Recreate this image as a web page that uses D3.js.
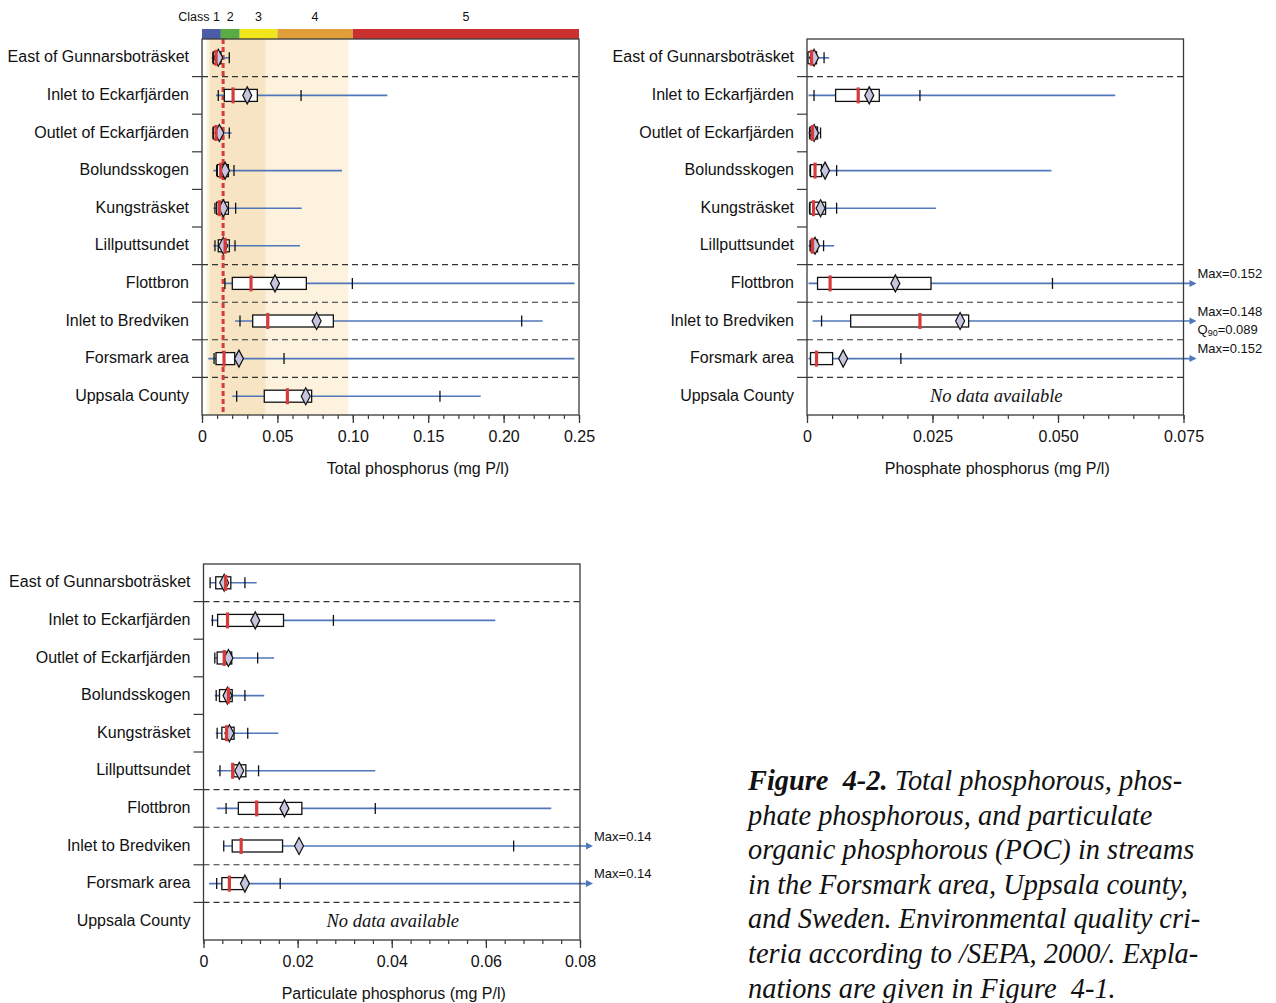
<!DOCTYPE html>
<html>
<head>
<meta charset="utf-8">
<script src="https://cdn.jsdelivr.net/npm/d3@7"></script>
<style>
  html, body { margin: 0; padding: 0; background: #fff; }
  svg { display: block; }
  text { font-family: "Liberation Sans", Arial, Helvetica, sans-serif; fill: #111; }
  .serif { font-family: "Liberation Serif", "Times New Roman", Times, serif; }
</style>
</head>
<body>
<svg id="fig" width="1276" height="1003"></svg>
<script>
// ---------- data ----------
const stations = [
  "East of Gunnarsboträsket", "Inlet to Eckarfjärden", "Outlet of Eckarfjärden",
  "Bolundsskogen", "Kungsträsket", "Lillputtsundet", "Flottbron",
  "Inlet to Bredviken", "Forsmark area", "Uppsala County"
];
// rows followed by a dashed separator (index of the row above the line)
const groupBreaks = [0, 5, 6, 7, 8];

// Total phosphorus (mg P/l)
const tpMin    = [0.0064, 0.0093, 0.0071, 0.0075, 0.0075, 0.0075, 0.0148, 0.0219, 0.0042, 0.0201];
const tpLow    = [0.0072, 0.0108, 0.0073, 0.0097, 0.0086, 0.0086, 0.0152, 0.0252, 0.0080, 0.0230];
const tpQ1     = [0.0075, 0.0148, 0.0075, 0.0102, 0.0097, 0.0108, 0.0201, 0.0336, 0.0093, 0.0413];
const tpMedian = [0.0093, 0.0206, 0.0093, 0.0124, 0.0115, 0.0153, 0.0325, 0.0436, 0.0146, 0.0566];
const tpQ3     = [0.0126, 0.0367, 0.0124, 0.0175, 0.0175, 0.0181, 0.0692, 0.0871, 0.0217, 0.0727];
const tpHigh   = [0.0181, 0.0657, 0.0181, 0.0212, 0.0223, 0.0219, 0.0997, 0.2120, 0.0544, 0.1578];
const tpMax    = [0.0186, 0.1229, 0.0197, 0.0928, 0.0661, 0.0650, 0.2470, 0.2259, 0.2470, 0.1848];
const tpMean   = [0.0108, 0.0300, 0.0115, 0.0153, 0.0141, 0.0141, 0.0484, 0.0760, 0.0245, 0.0688];
const tpTicks  = [0, 0.05, 0.10, 0.15, 0.20, 0.25];
const tpTickLabels = ["0", "0.05", "0.10", "0.15", "0.20", "0.25"];

// Environmental quality classes for total phosphorus
const classBreaks = [0, 0.0125, 0.025, 0.05, 0.1, 0.25];
const classNames  = ["1", "2", "3", "4", "5"];
const classColors = ["#4a5ca6", "#5aab45", "#f1e61c", "#e09f3a", "#c9302f"];
// Swedish reference ranges and median
const swedenOuter  = [0.003, 0.097];
const swedenInner  = [0.005, 0.042];
const swedenMedian = 0.014;

// Phosphate phosphorus (mg P/l)
const ppMin    = [0.0001, 0.0003, 0.0003, 0.0004, 0.0004, 0.0003, 0.0003, 0.0011, 0.0003, null];
const ppLow    = [0.0002, 0.0014, 0.0005, 0.0006, 0.0005, 0.0006, null,   0.0029, null,   null];
const ppQ1     = [0.0002, 0.0057, 0.0006, 0.0007, 0.0006, 0.0008, 0.0021, 0.0087, 0.0007, null];
const ppMedian = [0.0009, 0.0102, 0.0011, 0.0016, 0.0013, 0.0011, 0.0046, 0.0225, 0.0019, null];
const ppQ3     = [0.0019, 0.0144, 0.0021, 0.0029, 0.0037, 0.0021, 0.0247, 0.0322, 0.0051, null];
const ppHigh   = [0.0034, 0.0225, 0.0027, 0.0059, 0.0059, 0.0033, 0.0489, 0.089,  0.0187, null];
const ppMax    = [0.0044, 0.0614, 0.0028, 0.0487, 0.0257, 0.0054, 0.152,  0.148,  0.152,  null];
const ppMean   = [0.0014, 0.0124, 0.0014, 0.0036, 0.0027, 0.0016, 0.0176, 0.0305, 0.0072, null];
const ppTicks  = [0, 0.025, 0.050, 0.075];
const ppTickLabels = ["0", "0.025", "0.050", "0.075"];

// Particulate phosphorus (mg P/l)
const ptMin    = [0.0014, 0.0016, 0.0023, 0.0024, 0.0026, 0.0029, 0.0028, 0.0042, 0.0012, null];
const ptLow    = [0.0014, 0.0019, 0.0024, 0.0027, 0.0029, 0.0035, 0.0048, 0.0043, 0.0028, null];
const ptQ1     = [0.0026, 0.0030, 0.0029, 0.0034, 0.0039, 0.0064, 0.0074, 0.0061, 0.0039, null];
const ptMedian = [0.0047, 0.0051, 0.0044, 0.0053, 0.0049, 0.0062, 0.0113, 0.0080, 0.0055, null];
const ptQ3     = [0.0058, 0.0170, 0.0060, 0.0061, 0.0065, 0.0090, 0.0209, 0.0168, 0.0088, null];
const ptHigh   = [0.0088, 0.0276, 0.0115, 0.0088, 0.0094, 0.0117, 0.0365, 0.0659, 0.0163, null];
const ptMax    = [0.0113, 0.0620, 0.0150, 0.0129, 0.0159, 0.0365, 0.0739, 0.14,   0.14,   null];
const ptMean   = [0.0044, 0.0110, 0.0053, 0.0051, 0.0055, 0.0076, 0.0172, 0.0203, 0.0088, null];
const ptTicks  = [0, 0.02, 0.04, 0.06, 0.08];
const ptTickLabels = ["0", "0.02", "0.04", "0.06", "0.08"];

const captionLead = "Figure  4-2.";
const captionLines = [
  " Total phosphorous, phos-",
  "phate phosphorous, and particulate",
  "organic phosphorous (POC) in streams",
  "in the Forsmark area, Uppsala county,",
  "and Sweden. Environmental quality cri-",
  "teria according to /SEPA, 2000/. Expla-",
  "nations are given in Figure  4-1."
];

// ---------- drawing ----------
const svg = d3.select("#fig");
const BLUE = "#5077ba", RED = "#d63a3a", FRAME = "#3a3a3a";

function rowsFrom(a) {
  return stations.map((s, i) => ({
    station: s,
    min: a.min[i], low: a.low[i], q1: a.q1[i], median: a.median[i],
    q3: a.q3[i], high: a.high[i], max: a.max[i], mean: a.mean[i]
  }));
}

function drawPanel(cfg) {
  const g = svg.append("g");
  const x = d3.scaleLinear().domain([cfg.ticks[0], cfg.ticks[cfg.ticks.length - 1]])
    .range([cfg.left, cfg.right]);
  const y = d3.scaleBand().domain(stations).range([cfg.top, cfg.bottom]);
  const bw = y.bandwidth();
  const cy = s => y(s) + bw / 2;
  const xMax = x.domain()[1];

  if (cfg.background) cfg.background(g, x, y);

  // dashed group separators
  g.append("g").selectAll("line").data(groupBreaks).join("line")
    .attr("x1", cfg.left).attr("x2", cfg.right)
    .attr("y1", i => y(stations[i]) + bw).attr("y2", i => y(stations[i]) + bw)
    .attr("stroke", "#333").attr("stroke-width", 1.1).attr("stroke-dasharray", "6,4");

  // row ticks on the category axis
  g.append("g").selectAll("line").data(stations.slice(1)).join("line")
    .attr("x1", cfg.left - 10).attr("x2", cfg.left)
    .attr("y1", s => y(s)).attr("y2", s => y(s))
    .attr("stroke", FRAME).attr("stroke-width", 1.2);

  // station names
  g.append("g").selectAll("text").data(stations).join("text")
    .attr("x", cfg.left - 13).attr("y", s => cy(s) - 1).attr("dy", "0.35em")
    .attr("text-anchor", "end").attr("font-size", 16).text(s => s);

  if (cfg.overlay) cfg.overlay(g, x, y);

  const rows = rowsFrom(cfg.data);
  const withData = rows.filter(r => r.min !== null);
  const noData = rows.filter(r => r.min === null);
  const overrun = 13;

  const rg = g.append("g").selectAll("g").data(withData).join("g")
    .attr("transform", r => `translate(0,${cy(r.station)})`);

  // range line (min to max); runs past the frame with an arrow if max is off scale
  rg.append("line")
    .attr("x1", r => x(r.min))
    .attr("x2", r => r.max > xMax ? cfg.right + overrun - 2 : x(r.max))
    .attr("y1", 0).attr("y2", 0)
    .attr("stroke", BLUE).attr("stroke-width", 1.6);
  rg.filter(r => r.max > xMax).append("path")
    .attr("d", `M${cfg.right + overrun - 7},-3.5 L${cfg.right + overrun},0 L${cfg.right + overrun - 7},3.5 Z`)
    .attr("fill", BLUE);

  // percentile ticks
  rg.filter(r => r.low !== null).append("line")
    .attr("x1", r => x(r.low)).attr("x2", r => x(r.low))
    .attr("y1", -5.5).attr("y2", 5.5).attr("stroke", "#111").attr("stroke-width", 1.3);
  rg.filter(r => r.high !== null && r.high <= xMax).append("line")
    .attr("x1", r => x(r.high)).attr("x2", r => x(r.high))
    .attr("y1", -5.5).attr("y2", 5.5).attr("stroke", "#111").attr("stroke-width", 1.3);

  // interquartile box
  rg.append("rect")
    .attr("x", r => x(r.q1)).attr("width", r => x(r.q3) - x(r.q1))
    .attr("y", -6).attr("height", 12)
    .attr("fill", "#fff").attr("stroke", "#111").attr("stroke-width", 1.3);

  // mean diamond
  rg.append("path")
    .attr("d", r => { const m = x(r.mean); return `M${m},-8.5 L${m + 4.5},0 L${m},8.5 L${m - 4.5},0 Z`; })
    .attr("fill", "#c6c5df").attr("stroke", "#111").attr("stroke-width", 1.2);

  // median
  rg.append("line")
    .attr("x1", r => x(r.median)).attr("x2", r => x(r.median))
    .attr("y1", -8).attr("y2", 8).attr("stroke", RED).attr("stroke-width", 3.2);

  // off-scale annotations
  const off = rg.filter(r => r.max > xMax);
  off.append("text")
    .attr("x", cfg.right + overrun + 1).attr("y", -10).attr("dy", "0.35em")
    .attr("font-size", 13).text(r => `Max=${r.max}`);
  const q = rg.filter(r => r.high !== null && r.high > xMax).append("text")
    .attr("x", cfg.right + overrun + 1).attr("y", 8).attr("dy", "0.35em")
    .attr("font-size", 13);
  q.append("tspan").text("Q");
  q.append("tspan").attr("font-size", 9).attr("dy", 2).text("90");
  q.append("tspan").attr("dy", -2).text(r => `=${r.high}`);

  // rows without data
  g.append("g").selectAll("text").data(noData).join("text")
    .attr("class", "serif")
    .attr("x", (cfg.left + cfg.right) / 2 + 1).attr("y", r => cy(r.station) - 1).attr("dy", "0.35em")
    .attr("text-anchor", "middle").attr("font-size", 18.5).attr("font-style", "italic")
    .attr("fill", "#222").text("No data available");

  // frame
  g.append("rect")
    .attr("x", cfg.left).attr("y", cfg.top)
    .attr("width", cfg.right - cfg.left).attr("height", cfg.bottom - cfg.top)
    .attr("fill", "none").attr("stroke", FRAME).attr("stroke-width", 1.3);

  // value axis
  const minor = d3.range(0, xMax + cfg.minorStep / 2, cfg.minorStep);
  g.append("g").attr("transform", `translate(0,${cfg.bottom})`)
    .call(d3.axisBottom(x).tickValues(minor).tickSize(4).tickFormat(""))
    .call(a => a.select(".domain").remove())
    .call(a => a.selectAll("line").attr("stroke", FRAME).attr("stroke-width", 1.2));
  g.append("g").attr("transform", `translate(0,${cfg.bottom})`)
    .call(d3.axisBottom(x).tickValues(cfg.ticks).tickSize(8).tickPadding(8)
      .tickFormat((d, i) => cfg.tickLabels[i]))
    .call(a => a.select(".domain").remove())
    .call(a => a.selectAll("line").attr("stroke", FRAME).attr("stroke-width", 1.3))
    .call(a => a.selectAll("text").attr("font-size", 16).attr("fill", "#111")
      .attr("font-family", "'Liberation Sans', Arial, sans-serif"));

  g.append("text")
    .attr("x", cfg.titleX !== undefined ? cfg.titleX : (cfg.left + cfg.right) / 2 + 2)
    .attr("y", cfg.bottom + 59)
    .attr("text-anchor", "middle").attr("font-size", 16).text(cfg.title);
}

// Total phosphorus, with class bar and Swedish reference ranges
drawPanel({
  left: 202, right: 579, top: 39, bottom: 415,
  ticks: tpTicks, tickLabels: tpTickLabels, minorStep: 0.01,
  title: "Total phosphorus (mg P/l)", titleX: 418,
  data: { min: tpMin, low: tpLow, q1: tpQ1, median: tpMedian, q3: tpQ3, high: tpHigh, max: tpMax, mean: tpMean },
  background: (g, x) => {
    g.append("rect").attr("x", x(swedenOuter[0])).attr("width", x(swedenOuter[1]) - x(swedenOuter[0]))
      .attr("y", 39).attr("height", 376).attr("fill", "#fcf2dd");
    g.append("rect").attr("x", x(swedenInner[0])).attr("width", x(swedenInner[1]) - x(swedenInner[0]))
      .attr("y", 39).attr("height", 376).attr("fill", "#f7e4c3");
    // class colour bar
    const cls = classNames.map((n, i) => ({ name: n, from: classBreaks[i], to: classBreaks[i + 1], color: classColors[i] }));
    g.append("g").selectAll("rect").data(cls).join("rect")
      .attr("x", c => x(c.from)).attr("width", c => x(c.to) - x(c.from))
      .attr("y", 29).attr("height", 10).attr("fill", c => c.color);
    g.append("g").selectAll("text").data(cls).join("text")
      .attr("x", (c, i) => i === 0 ? x(c.to) - 1 : (x(c.from) + x(c.to)) / 2)
      .attr("y", 21).attr("font-size", 12.5)
      .attr("text-anchor", (c, i) => i === 0 ? "end" : "middle")
      .text((c, i) => i === 0 ? `Class ${c.name}` : c.name);
  },
  overlay: (g, x) => {
    g.append("line").attr("x1", x(swedenMedian)).attr("x2", x(swedenMedian))
      .attr("y1", 39).attr("y2", 415)
      .attr("stroke", RED).attr("stroke-width", 3).attr("stroke-dasharray", "5,3");
  }
});

// Phosphate phosphorus
drawPanel({
  left: 807, right: 1183.5, top: 39, bottom: 415,
  ticks: ppTicks, tickLabels: ppTickLabels, minorStep: 0.005,
  title: "Phosphate phosphorus (mg P/l)",
  data: { min: ppMin, low: ppLow, q1: ppQ1, median: ppMedian, q3: ppQ3, high: ppHigh, max: ppMax, mean: ppMean }
});

// Particulate phosphorus
drawPanel({
  left: 203.5, right: 580, top: 564, bottom: 940,
  ticks: ptTicks, tickLabels: ptTickLabels, minorStep: 0.004,
  title: "Particulate phosphorus (mg P/l)",
  data: { min: ptMin, low: ptLow, q1: ptQ1, median: ptMedian, q3: ptQ3, high: ptHigh, max: ptMax, mean: ptMean }
});

// figure caption
const cap = svg.append("g").attr("class", "serif");
captionLines.forEach((line, i) => {
  const t = cap.append("text").attr("class", "serif")
    .attr("x", 748).attr("y", 790 + i * 34.6)
    .attr("font-size", 28.4).attr("font-style", "italic").attr("fill", "#111")
    .style("white-space", "pre");
  if (i === 0) t.append("tspan").attr("font-weight", "bold").text(captionLead);
  t.append("tspan").text(line);
});
</script>
</body>
</html>
